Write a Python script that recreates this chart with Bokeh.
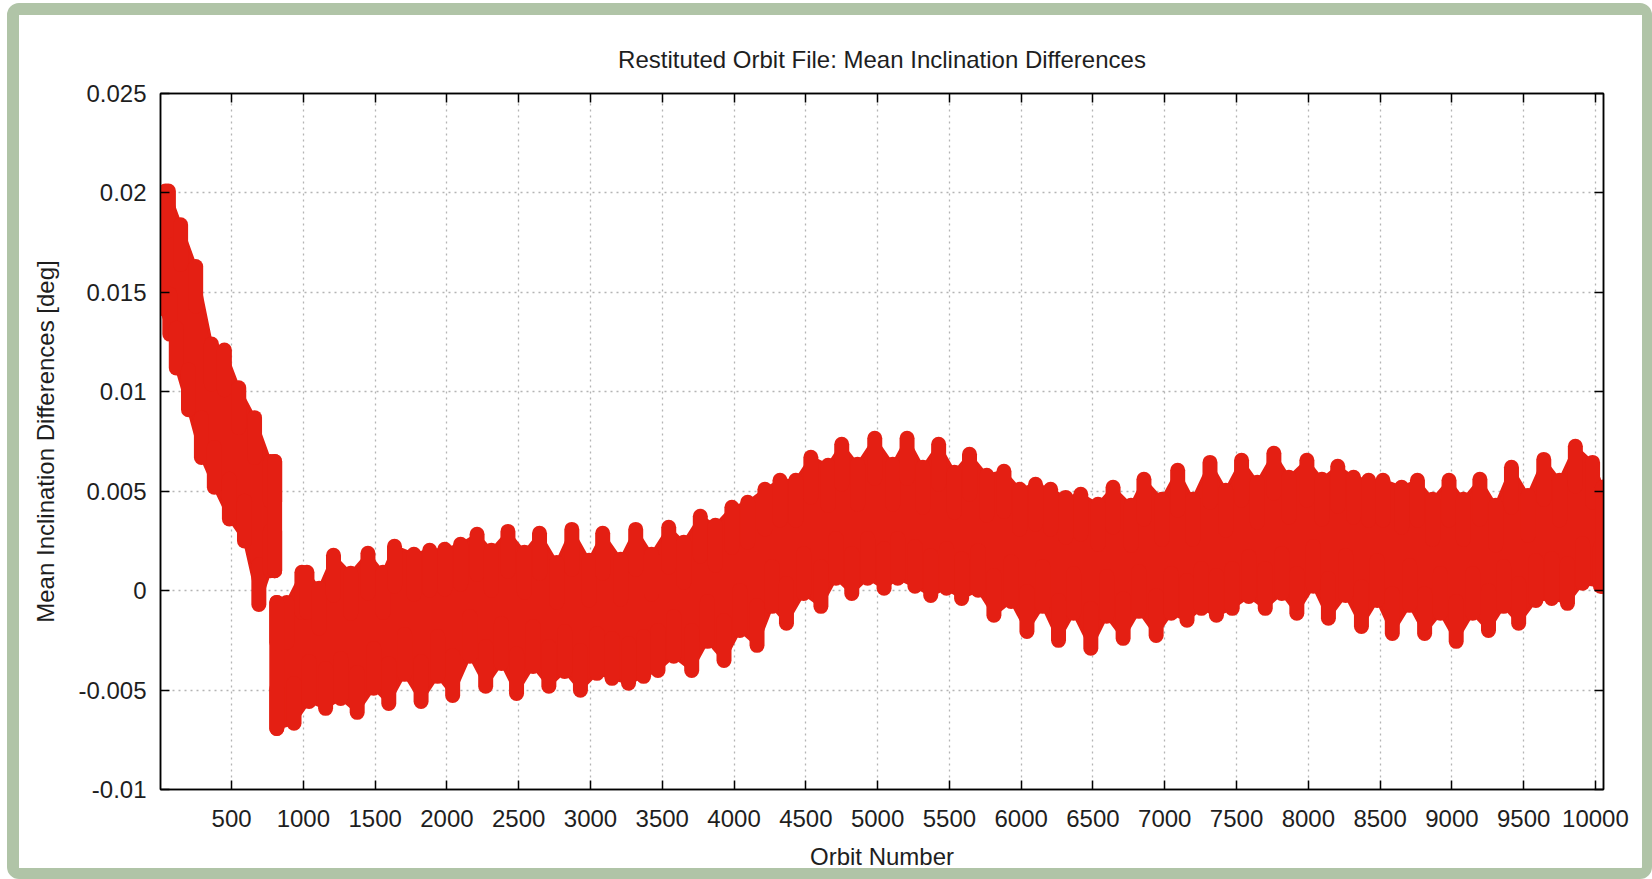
from bokeh.plotting import figure
from bokeh.models import FixedTicker, CustomJSTickFormatter, LinearAxis, Range1d
from bokeh.embed import file_html
from bokeh.resources import INLINE

# ---------------- data ----------------
# Band A: orbits 0 .. ~800 (before the jump)
band_a_upper_orbit = [5, 40, 60, 145, 250, 360, 450, 550, 660, 770, 800]
band_a_upper_value = [0.0197, 0.0201, 0.0201, 0.0184, 0.0163, 0.0124, 0.0121,
                      0.0102, 0.0087, 0.0065, 0.0065]
band_a_lower_orbit = [5, 70, 115, 200, 290, 380, 485, 590, 690, 770, 800]
band_a_lower_value = [0.0142, 0.0129, 0.0112, 0.0091, 0.0067, 0.0052, 0.0036,
                      0.0025, -0.0007, 0.0010, 0.0010]

# Band B: orbits ~815 .. ~10050 (upper envelope of the point cloud)
band_b_upper_orbit = [815, 885, 990, 1025, 1110, 1210, 1330, 1450, 1555, 1635,
                      1770, 1880, 1985, 2095, 2210, 2310, 2425, 2540, 2645, 2765,
                      2870, 2990, 3085, 3210, 3315, 3425, 3545, 3650, 3765, 3870,
                      3985, 4095, 4215, 4320, 4430, 4535, 4655, 4750, 4860, 4980,
                      5105, 5205, 5315, 5425, 5535, 5640, 5760, 5880, 5990, 6100,
                      6205, 6310, 6415, 6535, 6640, 6765, 6855, 6980, 7090, 7195,
                      7315, 7425, 7535, 7645, 7760, 7865, 7990, 8095, 8205, 8315,
                      8420, 8520, 8650, 8760, 8865, 8980, 9080, 9195, 9305, 9415,
                      9530, 9640, 9750, 9860, 9980, 10050]
band_b_upper_value = [-0.00059, -0.00059, 0.00092, 0.00092, 0.00012, 0.00178, 0.00087,
                      0.00188, 0.00092, 0.00223, 0.00183, 0.00203, 0.00208, 0.00233,
                      0.00283, 0.00203, 0.00298, 0.00193, 0.00288, 0.00142, 0.00308,
                      0.00153, 0.00288, 0.00158, 0.00308, 0.00183, 0.00319, 0.00243,
                      0.00374, 0.00329, 0.00419, 0.00444, 0.00510, 0.00555, 0.00555,
                      0.00671, 0.00630, 0.00736, 0.00635, 0.00766, 0.00635, 0.00766,
                      0.00620, 0.00736, 0.00595, 0.00686, 0.00580, 0.00600, 0.00510,
                      0.00535, 0.00510, 0.00469, 0.00485, 0.00434, 0.00520, 0.00429,
                      0.00560, 0.00459, 0.00605, 0.00459, 0.00645, 0.00505, 0.00656,
                      0.00545, 0.00691, 0.00570, 0.00656, 0.00560, 0.00625, 0.00570,
                      0.00555, 0.00555, 0.00520, 0.00555, 0.00459, 0.00555, 0.00459,
                      0.00560, 0.00429, 0.00620, 0.00479, 0.00660, 0.00555, 0.00726,
                      0.00645, 0.00520]
# Band B lower envelope
band_b_lower_orbit = [815, 935, 1040, 1155, 1260, 1375, 1490, 1595, 1705, 1820,
                      1935, 2040, 2160, 2270, 2380, 2485, 2600, 2710, 2820, 2930,
                      3045, 3150, 3265, 3370, 3470, 3580, 3705, 3815, 3930, 4040,
                      4160, 4265, 4365, 4485, 4605, 4710, 4820, 4930, 5045, 5140,
                      5260, 5370, 5480, 5585, 5700, 5810, 5930, 6040, 6150, 6260,
                      6365, 6485, 6595, 6710, 6820, 6940, 7045, 7155, 7255, 7360,
                      7470, 7585, 7700, 7815, 7920, 8035, 8140, 8260, 8370, 8480,
                      8585, 8705, 8810, 8920, 9030, 9145, 9255, 9360, 9465, 9585,
                      9695, 9805, 9910, 10035, 10050]
band_b_lower_value = [-0.00693, -0.00667, -0.00557, -0.00592, -0.00542, -0.00612, -0.00491,
                      -0.00567, -0.00421, -0.00557, -0.00431, -0.00527, -0.00330, -0.00481,
                      -0.00366, -0.00517, -0.00381, -0.00481, -0.00406, -0.00501, -0.00416,
                      -0.00441, -0.00466, -0.00431, -0.00401, -0.00330, -0.00401, -0.00255,
                      -0.00351, -0.00200, -0.00275, -0.00079, -0.00164, -0.00014, -0.00079,
                      0.00062, -0.00014, 0.00062, 0.00012, 0.00062, 0.00022, -0.00024,
                      0.00012, -0.00039, 0.00002, -0.00124, -0.00054, -0.00205, -0.00079,
                      -0.00250, -0.00114, -0.00290, -0.00129, -0.00240, -0.00104, -0.00225,
                      -0.00114, -0.00149, -0.00089, -0.00124, -0.00089, -0.00029, -0.00089,
                      -0.00014, -0.00114, 0.00022, -0.00139, -0.00024, -0.00180, -0.00049,
                      -0.00215, -0.00074, -0.00215, -0.00114, -0.00255, -0.00114, -0.00200,
                      -0.00079, -0.00164, -0.00049, -0.00039, -0.00064, 0.00037, 0.00022,
                      0.00022]

x_tick_values = [500, 1000, 1500, 2000, 2500, 3000, 3500, 4000, 4500, 5000,
                 5500, 6000, 6500, 7000, 7500, 8000, 8500, 9000, 9500, 10000]
y_tick_values = [-0.01, -0.005, 0.0, 0.005, 0.01, 0.015, 0.02, 0.025]

title_text = "Restituted Orbit File: Mean Inclination Differences"
x_label = "Orbit Number"
y_label = "Mean Inclination Differences [deg]"

# ---------------- styling ----------------
RED = "#e41f13"
FONT = "Liberation Sans"
TXT = "#1e1e1e"
FS = "24px"
MARK_W = 15          # pixel width of the thick point columns
DEPTH = 0.002        # how far each edge column reaches into the band

# element box: 7..1652 x 3..879 ; canvas starts inside the green border at (19, 15)
p = figure(width=1645, height=876, output_backend="svg", toolbar_location=None,
           x_range=Range1d(5, 10056), y_range=Range1d(-0.01, 0.025),
           min_border_left=141, min_border_right=61, min_border_top=78,
           min_border_bottom=102, background_fill_color="white",
           border_fill_color="white")
p.styles = {"margin": "3px 0px 0px 7px", "border-style": "solid",
            "border-color": "#b0c4a7", "border-width": "12px 10px 11px 12px",
            "border-radius": "12px", "overflow": "hidden"}

p.title.text = title_text
p.title.align = "center"
p.title.text_font = FONT
p.title.text_font_size = FS
p.title.text_font_style = "normal"
p.title.text_color = TXT
p.title.standoff = 41

p.outline_line_color = "black"
p.outline_line_width = 1.5

xt = FixedTicker(ticks=x_tick_values, minor_ticks=[])
yt = FixedTicker(ticks=y_tick_values, minor_ticks=[])
yfmt = CustomJSTickFormatter(code="return tick.toFixed(3).replace(/0+$/, '').replace(/\\.$/, '');")
blank = CustomJSTickFormatter(code="return '';")

for ax in (p.xaxis[0], p.yaxis[0]):
    ax.axis_line_color = "black"
    ax.axis_line_width = 1.5
    ax.major_tick_line_color = "black"
    ax.major_tick_line_width = 1.5
    ax.major_tick_in = 9
    ax.major_tick_out = 0
    ax.minor_tick_line_color = None
    ax.major_label_text_font = FONT
    ax.major_label_text_font_size = FS
    ax.major_label_text_color = TXT
    ax.axis_label_text_font = FONT
    ax.axis_label_text_font_size = FS
    ax.axis_label_text_font_style = "normal"
    ax.axis_label_text_color = TXT

p.xaxis[0].ticker = xt
p.yaxis[0].ticker = yt
p.yaxis[0].formatter = yfmt
p.xaxis[0].axis_label = x_label
p.yaxis[0].axis_label = y_label
p.xaxis[0].major_label_standoff = 20
p.xaxis[0].axis_label_standoff = 13
p.yaxis[0].major_label_standoff = 14
p.yaxis[0].axis_label_standoff = 16

for loc, tk in (("above", xt), ("right", yt)):
    ax = LinearAxis(ticker=tk, formatter=blank)
    ax.axis_line_color = "black"
    ax.axis_line_width = 1.5
    ax.major_tick_line_color = "black"
    ax.major_tick_line_width = 1.5
    ax.major_tick_in = 9
    ax.major_tick_out = 0
    ax.minor_tick_line_color = None
    ax.major_label_text_font_size = "0px"
    ax.major_label_standoff = 0
    p.add_layout(ax, loc)

for g, tk in ((p.xgrid[0], xt), (p.ygrid[0], yt)):
    g.ticker = tk
    g.grid_line_color = "#b4b4b4"
    g.grid_line_width = 1.3
    g.grid_line_dash = "2 4"

# ---------------- data drawing ----------------
for up_x, up_y, lo_x, lo_y in (
        (band_a_upper_orbit, band_a_upper_value, band_a_lower_orbit, band_a_lower_value),
        (band_b_upper_orbit, band_b_upper_value, band_b_lower_orbit, band_b_lower_value)):
    # interior of the point cloud
    xs = list(up_x) + list(lo_x)[::-1]
    ys = list(up_y) + list(lo_y)[::-1]
    p.patch(x=xs, y=ys, fill_color=RED, line_color=RED, line_width=3,
            line_join="round")
    # stacks of round points along the upper and lower edges
    p.segment(x0=up_x, y0=up_y, x1=up_x, y1=[v - DEPTH for v in up_y],
              line_color=RED, line_width=MARK_W, line_cap="round")
    p.segment(x0=lo_x, y0=lo_y, x1=lo_x, y1=[v + DEPTH for v in lo_y],
              line_color=RED, line_width=MARK_W, line_cap="round")
    # first and last columns of the band
    p.segment(x0=[up_x[0], up_x[-1]], y0=[lo_y[0], lo_y[-1]],
              x1=[up_x[0], up_x[-1]], y1=[up_y[0], up_y[-1]],
              line_color=RED, line_width=MARK_W, line_cap="round")

open("out.html", "w").write(file_html(p, INLINE))
